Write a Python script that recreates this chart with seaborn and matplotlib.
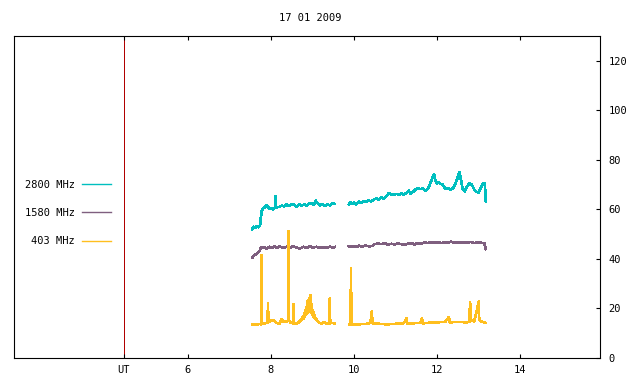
import matplotlib
matplotlib.use("Agg")
import matplotlib.pyplot as plt
import numpy as np
import pandas as pd
import seaborn as sns

plt.rcParams.update({
    "font.family": ["DejaVu Sans Mono"],
    "font.size": 7.5,
    "axes.linewidth": 0.8,
    "lines.antialiased": False,
})

TITLE = "17 01 2009"
FREQS = ["2800 MHz", "1580 MHz", "403 MHz"]
COLORS = ["#00BFBF", "#7F5F7F", "#FFBF1F"]
UT_MARK = 4.46

# 2800 MHz (hours UT, flux)
t2800_a = [7.55, 7.58, 7.62, 7.66, 7.70, 7.74, 7.76, 7.78, 7.82, 7.86, 7.90, 7.94, 7.98,
           8.02, 8.06, 8.10, 8.11, 8.12, 8.16, 8.20, 8.26, 8.32, 8.38, 8.44, 8.50, 8.56,
           8.62, 8.68, 8.74, 8.80, 8.86, 8.92, 8.98, 9.04, 9.08, 9.12, 9.18, 9.24, 9.30,
           9.36, 9.42, 9.48, 9.54]
v2800_a = [52.0, 53.0, 52.5, 53.2, 52.8, 53.5, 57.0, 59.5, 60.5, 61.0, 61.8, 60.8, 60.2,
           60.6, 60.0, 60.8, 65.5, 60.5, 60.9, 61.0, 61.5, 61.2, 62.0, 61.4, 62.2, 61.8,
           61.2, 62.0, 61.5, 62.0, 61.6, 62.3, 62.6, 61.8, 63.5, 62.5, 61.6, 62.2, 61.4,
           62.0, 61.6, 62.4, 62.2]
t2800_b = [9.88, 9.92, 9.96, 10.00, 10.06, 10.12, 10.18, 10.24, 10.30, 10.36, 10.42, 10.48,
           10.54, 10.60, 10.66, 10.72, 10.78, 10.84, 10.90, 10.96, 11.02, 11.08, 11.14,
           11.20, 11.26, 11.32, 11.36, 11.42, 11.48, 11.54, 11.60, 11.66, 11.72, 11.78,
           11.84, 11.90, 11.93, 11.96, 12.00, 12.04, 12.08, 12.14, 12.20, 12.26, 12.32,
           12.38, 12.44, 12.50, 12.54, 12.58, 12.62, 12.67, 12.72, 12.78, 12.84, 12.90,
           12.96, 13.00, 13.04, 13.10, 13.14, 13.16, 13.17, 13.18]
v2800_b = [62.0, 63.0, 62.2, 62.8, 62.0, 63.2, 62.6, 63.4, 63.0, 63.6, 63.2, 64.0,
           64.4, 64.0, 64.8, 64.4, 65.2, 66.6, 66.0, 65.8, 66.3, 65.9, 66.4,
           66.0, 66.6, 67.6, 66.4, 67.0, 68.0, 68.6, 68.2, 68.4, 67.6, 68.2,
           70.5, 73.0, 74.3, 72.0, 70.5, 71.0, 70.4, 70.0, 68.4, 68.6, 68.0,
           68.4, 70.0, 72.8, 75.0, 72.0, 68.4, 67.2, 69.0, 70.6, 70.0, 68.0,
           67.0, 66.8, 68.0, 70.2, 70.6, 69.8, 64.5, 63.2]

# 1580 MHz
t1580_a = [7.55, 7.60, 7.66, 7.72, 7.76, 7.82, 7.90, 7.96, 8.02, 8.08, 8.14, 8.22, 8.30,
           8.38, 8.46, 8.54, 8.62, 8.70, 8.78, 8.86, 8.94, 9.02, 9.10, 9.18, 9.26, 9.34,
           9.42, 9.50, 9.54]
v1580_a = [40.5, 41.5, 42.2, 43.0, 44.5, 44.8, 44.2, 44.9, 44.4, 45.0, 44.6, 45.0, 44.4,
           44.9, 44.5, 45.1, 44.6, 44.2, 44.9, 44.5, 45.0, 44.6, 44.9, 44.4, 44.8, 44.5,
           44.9, 44.6, 44.8]
t1580_b = [9.88, 9.96, 10.04, 10.12, 10.20, 10.28, 10.36, 10.44, 10.50, 10.58, 10.66, 10.74,
           10.82, 10.90, 10.98, 11.06, 11.14, 11.22, 11.30, 11.38, 11.46, 11.54, 11.62,
           11.70, 11.78, 11.86, 11.94, 12.02, 12.10, 12.18, 12.26, 12.34, 12.42, 12.50,
           12.58, 12.66, 12.74, 12.82, 12.90, 12.98, 13.06, 13.14, 13.16, 13.18]
v1580_b = [45.0, 45.2, 44.8, 45.3, 45.0, 45.4, 45.1, 45.2, 46.0, 46.2, 46.0, 46.3,
           45.8, 46.1, 45.9, 46.2, 46.0, 45.8, 46.1, 46.3, 45.9, 46.4, 46.2,
           46.6, 46.4, 46.7, 46.5, 46.8, 46.4, 46.7, 46.5, 47.0, 46.6, 46.8,
           46.5, 46.8, 46.6, 46.9, 46.4, 46.6, 46.5, 46.4, 45.0, 44.0]

# 403 MHz
t403_a = [7.55, 7.65, 7.74, 7.76, 7.77, 7.78, 7.86, 7.92, 7.93, 7.94, 7.98, 8.06, 8.14,
          8.20, 8.26, 8.30, 8.36, 8.41, 8.42, 8.43, 8.44, 8.48, 8.53, 8.54, 8.55, 8.60,
          8.66, 8.70, 8.74, 8.76, 8.78, 8.79, 8.80, 8.81, 8.82, 8.83, 8.84, 8.85, 8.86,
          8.87, 8.88, 8.89, 8.90, 8.91, 8.92, 8.93, 8.94, 8.95, 8.96, 8.97, 8.98, 8.99,
          9.00, 9.01, 9.02, 9.03, 9.04, 9.06, 9.08, 9.12, 9.16, 9.22, 9.28, 9.34, 9.41,
          9.42, 9.43, 9.48, 9.54]
v403_a = [13.6, 13.4, 13.8, 13.6, 41.6, 13.8, 14.0, 14.2, 22.2, 14.4, 15.0, 15.2, 14.2,
          13.8, 15.6, 14.8, 14.6, 15.0, 51.3, 33.0, 15.2, 14.2, 14.0, 21.8, 14.2, 13.8,
          14.2, 15.0, 15.6, 16.4, 15.8, 17.2, 16.2, 18.0, 16.8, 19.2, 17.4, 20.4, 17.8,
          21.8, 18.2, 23.4, 18.6, 21.0, 24.0, 19.0, 22.0, 18.6, 25.4, 18.2, 21.6, 17.6,
          19.6, 17.0, 18.8, 16.4, 17.6, 15.8, 16.0, 15.0, 14.2, 14.0, 14.4, 13.8, 14.0,
          24.0, 14.0, 14.2, 14.0]
t403_b = [9.88, 9.92, 9.93, 9.94, 10.10, 10.30, 10.40, 10.43, 10.45, 10.60, 10.80, 11.00,
          11.20, 11.27, 11.29, 11.40, 11.60, 11.64, 11.66, 11.80, 12.00, 12.20, 12.29,
          12.31, 12.50, 12.70, 12.78, 12.80, 12.82, 12.90, 13.01, 13.02, 13.08, 13.18]
v403_b = [13.6, 13.6, 36.4, 13.6, 13.6, 13.8, 14.2, 18.8, 14.0, 13.8, 13.6, 13.8,
          14.0, 16.0, 13.8, 14.0, 14.2, 16.2, 14.0, 14.2, 14.4, 14.6, 16.6,
          14.4, 14.6, 14.4, 14.6, 22.4, 15.4, 14.8, 22.8, 15.5, 14.6, 14.2]

segments = [
    ("2800 MHz", 0, t2800_a, v2800_a), ("2800 MHz", 1, t2800_b, v2800_b),
    ("1580 MHz", 0, t1580_a, v1580_a), ("1580 MHz", 1, t1580_b, v1580_b),
    ("403 MHz", 0, t403_a, v403_a), ("403 MHz", 1, t403_b, v403_b),
]
df = pd.concat([
    pd.DataFrame({"freq": f, "seg": s, "hour": t, "flux": v})
    for f, s, t, v in segments
], ignore_index=True)

fig = plt.figure(figsize=(6.4, 3.84), dpi=100)
ax = fig.add_axes([14 / 640, 1 - 358 / 384, 586 / 640, 322 / 384])

ax.axvline(UT_MARK, color="#B00000", lw=0.72, zorder=1)

sns.lineplot(data=df, x="hour", y="flux", hue="freq", units="seg", estimator=None,
             hue_order=FREQS, palette=COLORS, linewidth=1.2, ax=ax, zorder=2)

ax.set_xlim(1.81, 15.93)
ax.set_ylim(0, 130)
ax.set_xlabel("")
ax.set_ylabel("")

ax.set_xticks([UT_MARK, 6, 8, 10, 12, 14])
ax.set_xticklabels(["UT", "6", "8", "10", "12", "14"])
ax.tick_params(axis="x", direction="in", top=True, length=3, width=0.8, pad=5)

ax.yaxis.tick_right()
ax.set_yticks(np.arange(0, 121, 20))
ax.tick_params(axis="y", direction="in", left=False, right=True, length=3, width=0.8, pad=6)

sns.move_legend(ax, "center right", bbox_to_anchor=(111 / 640, 1 - 213 / 384),
                bbox_transform=fig.transFigure, markerfirst=False, frameon=False,
                title=None, labelspacing=1.75, handlelength=2.8, handletextpad=0.7,
                borderpad=0, borderaxespad=0, fontsize=7.5)
for h in ax.get_legend().get_lines():
    h.set_linewidth(1.0)
    h.set_antialiased(True)

fig.text(310 / 640, 1 - 18 / 384, TITLE, ha="center", va="center", fontsize=7.5)

fig.savefig("out.png", dpi=100)
